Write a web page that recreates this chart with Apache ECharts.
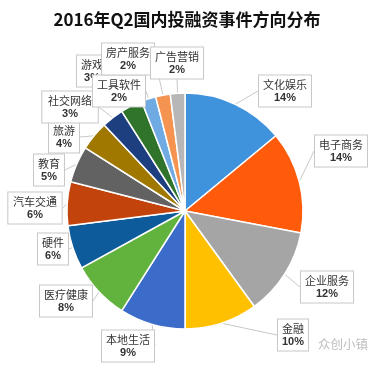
<!DOCTYPE html>
<html><head><meta charset="utf-8">
<script src="https://cdn.jsdelivr.net/npm/echarts@6/dist/echarts.min.js"></script>
<style>html,body{margin:0;padding:0;background:#fff}#c{width:381px;height:365px}</style>
</head><body><div id="c"></div>
<script>
const titleText = '2016年Q2国内投融资事件方向分布';
const categories = ['文化娱乐','电子商务','企业服务','金融','本地生活','医疗健康','硬件','汽车交通','教育','旅游','社交网络','游戏','工具软件','房产服务','广告营销'];
const values = [14,14,12,10,9,8,6,6,5,4,3,3,2,2,2];
const colors = ['#3f92dc','#ff5b0a','#a5a5a5','#ffc000','#3b6cc9','#62b23e','#0d5b9b','#c2440c','#626262','#a07800','#1e3f7f','#2f742a','#6faae3','#f59450','#b7b7b7'];
// label box centres (pixels), styling only
const labelPos = [[285,91],[341,151],[327,287],[293,335],[128,346],[66,301],[53,249],[35,208],[49,170],[64,137],[70,107],[92,71],[119,91],[128,59],[177,63]];

const chart = echarts.init(document.getElementById('c'));
chart.setOption({
  animation:false,
  title:{text:titleText,left:182,top:6,textAlign:'center',textStyle:{fontSize:17,fontWeight:'bold',color:'#111',fontFamily:'Noto Sans CJK SC'}},
  graphic:[{type:'text',left:318,top:338,z:100,style:{text:'众创小镇',fontSize:12.5,fill:'#bdbdbd',fontFamily:'Noto Sans CJK SC'}}],
  series:[{
    type:'pie',
    center:[185,211],
    radius:[0,118],
    startAngle:90,
    clockwise:true,
    data:categories.map((n,i)=>({name:n,value:values[i],itemStyle:{color:colors[i]}})),
    itemStyle:{borderColor:'#fff',borderWidth:1.5},
    label:{show:true,position:'outside',formatter:p=>'{n|'+p.name+'}\n{v|'+p.value+'%}',
      backgroundColor:'#fff',borderColor:'#c8c8c8',borderWidth:1,padding:[2,4,2,4],align:'center',
      rich:{n:{fontSize:11,color:'#333',fontFamily:'Noto Sans CJK SC',lineHeight:14,align:'center'},
            v:{fontSize:11,fontWeight:'bold',color:'#333',fontFamily:'Liberation Sans',lineHeight:13,align:'center'}}},
    labelLine:{show:true,length:8,length2:0,lineStyle:{color:'#c8c8c8',width:1}},
    labelLayout:function(params){const p=labelPos[params.dataIndex];return {x:p[0],y:p[1],align:'center',verticalAlign:'middle'};}
  }]
});
</script></body></html>
